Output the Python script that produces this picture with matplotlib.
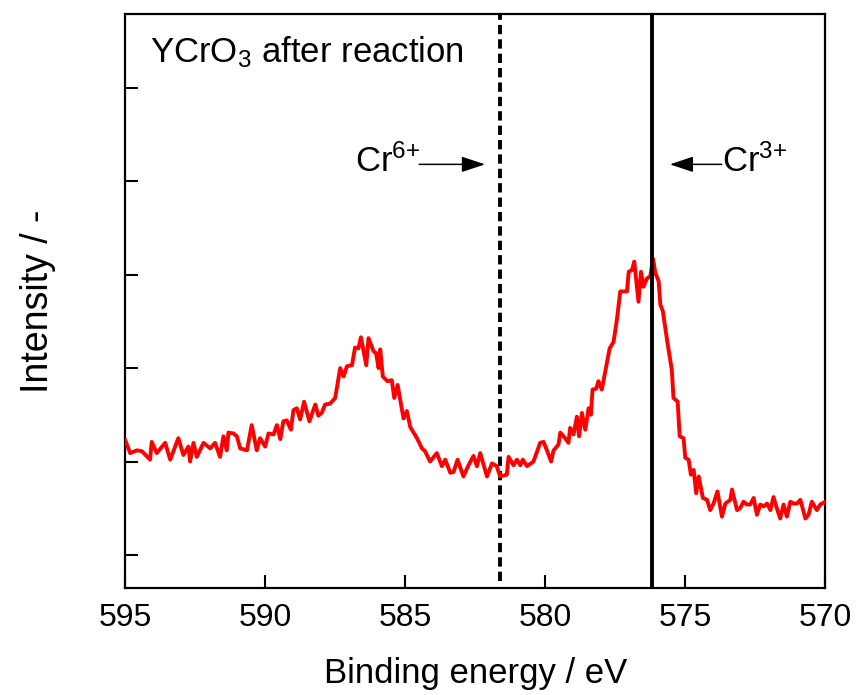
import matplotlib
matplotlib.use('Agg')
import matplotlib.pyplot as plt

plt.rcParams['font.family'] = ['Liberation Sans', 'DejaVu Sans']
plt.rcParams['mathtext.default'] = 'regular'

# XPS Cr 2p spectrum (binding energy in eV, intensity in tick units)
energy = [
    595.00, 594.82, 594.58, 594.40, 594.11, 594.05, 593.87, 593.57, 593.39, 593.10,
    592.92, 592.74, 592.68, 592.56, 592.44, 592.20, 591.96, 591.79, 591.61, 591.49,
    591.37, 591.31, 591.13, 591.01, 590.89, 590.65, 590.48, 590.30, 590.18, 590.00,
    589.88, 589.70, 589.58, 589.46, 589.35, 589.23, 589.08, 588.99, 588.87, 588.75,
    588.61, 588.42, 588.21, 588.10, 587.98, 587.86, 587.68, 587.50, 587.32, 587.20,
    587.08, 586.90, 586.79, 586.67, 586.58, 586.39, 586.31, 586.13, 586.04, 585.95,
    585.89, 585.80, 585.63, 585.48, 585.39, 585.27, 585.06, 584.94, 584.82, 584.58,
    584.40, 584.29, 584.11, 583.87, 583.69, 583.57, 583.39, 583.27, 583.13, 582.92,
    582.74, 582.56, 582.44, 582.32, 582.08, 581.90, 581.73, 581.61, 581.37, 581.31,
    581.13, 581.01, 580.89, 580.80, 580.65, 580.42, 580.18, 580.06, 579.94, 579.79,
    579.70, 579.53, 579.46, 579.29, 579.17, 579.11, 578.99, 578.87, 578.79, 578.69,
    578.57, 578.45, 578.37, 578.31, 578.18, 578.10, 577.98, 577.80, 577.70, 577.56,
    577.44, 577.32, 577.08, 577.02, 576.90, 576.82, 576.67, 576.58, 576.49, 576.37,
    576.25, 576.15, 576.07, 575.95, 575.89, 575.80, 575.65, 575.48, 575.42, 575.27,
    575.20, 575.06, 575.00, 574.88, 574.80, 574.70, 574.61, 574.52, 574.37, 574.22,
    574.11, 573.99, 573.85, 573.69, 573.57, 573.39, 573.33, 573.15, 573.04, 572.92,
    572.80, 572.68, 572.56, 572.44, 572.32, 572.20, 572.08, 571.96, 571.85, 571.73,
    571.61, 571.49, 571.37, 571.25, 571.13, 571.01, 570.89, 570.71, 570.60, 570.48,
    570.30, 570.18, 570.00,
]
intensity = [
    1.23, 1.09, 1.12, 1.11, 1.02, 1.21, 1.09, 1.20, 1.02, 1.25,
    1.07, 1.16, 1.00, 1.20, 1.05, 1.20, 1.14, 1.20, 1.05, 1.27,
    1.12, 1.31, 1.30, 1.27, 1.14, 1.12, 1.39, 1.12, 1.25, 1.16,
    1.30, 1.29, 1.39, 1.24, 1.43, 1.44, 1.34, 1.55, 1.57, 1.45,
    1.64, 1.43, 1.61, 1.49, 1.52, 1.61, 1.62, 1.68, 2.00, 1.91,
    2.02, 2.03, 2.22, 2.21, 2.33, 2.03, 2.32, 2.18, 2.16, 2.00,
    2.20, 1.91, 1.86, 1.87, 1.68, 1.82, 1.46, 1.54, 1.37, 1.25,
    1.14, 1.11, 1.00, 1.09, 0.95, 1.02, 0.88, 0.89, 1.02, 0.84,
    0.96, 1.06, 0.95, 1.09, 0.84, 0.98, 0.95, 0.84, 0.86, 1.05,
    0.96, 1.02, 0.96, 1.02, 0.95, 1.00, 1.20, 1.21, 1.12, 1.00,
    1.12, 1.18, 1.31, 1.25, 1.20, 1.36, 1.29, 1.48, 1.27, 1.52,
    1.34, 1.57, 1.50, 1.77, 1.78, 1.86, 1.77, 2.05, 2.21, 2.28,
    2.52, 2.82, 2.82, 3.03, 3.05, 3.14, 2.71, 3.03, 2.87, 2.96,
    2.98, 3.17, 3.02, 2.93, 2.68, 2.61, 2.30, 1.98, 1.68, 1.64,
    1.27, 1.25, 1.04, 1.02, 0.86, 0.91, 0.66, 0.84, 0.61, 0.59,
    0.48, 0.55, 0.68, 0.41, 0.55, 0.59, 0.70, 0.48, 0.50, 0.57,
    0.54, 0.54, 0.61, 0.43, 0.54, 0.52, 0.55, 0.48, 0.62, 0.50,
    0.39, 0.54, 0.41, 0.57, 0.55, 0.55, 0.59, 0.39, 0.43, 0.57,
    0.48, 0.54, 0.57,
]

xticks = [595, 590, 585, 580, 575, 570]
yticks = [0, 1, 2, 3, 4, 5]
cr6_pos = 581.6
cr3_pos = 576.2

fig = plt.figure(figsize=(8.57, 6.95), dpi=100)
ax = fig.add_axes([0.146, 0.154, 0.817, 0.826])

ax.plot(energy, intensity, color='#ff0000', lw=2.8, zorder=3)

# reference positions of Cr6+ and Cr3+
ax.axvline(cr6_pos, ymin=0.012, ymax=1, color='black', lw=2.8,
           linestyle=(0, (2.4, 1.3)), zorder=2)
ax.axvline(cr3_pos, color='black', lw=2.8, zorder=4)

ax.set_xlim(595, 570)
ax.set_ylim(-0.353, 5.79)
ax.set_xticks(xticks)
ax.set_yticks(yticks)
ax.set_yticklabels([])
ax.tick_params(axis='both', direction='in', length=9.5, width=1.5)
ax.tick_params(axis='x', pad=11, labelsize=23)
for sp in ax.spines.values():
    sp.set_linewidth(1.6)

ax.set_xlabel('Binding energy / eV', fontsize=25, labelpad=17)
ax.set_ylabel('Intensity / -', fontsize=27, labelpad=46)

ax.text(594.1, 5.27, 'YCrO$_3$ after reaction', fontsize=25,
        va='baseline', ha='left')

arrow = dict(arrowstyle='-|>,head_length=0.9,head_width=0.3', mutation_scale=16,
             color='black', lw=1.1, shrinkA=0, shrinkB=0)
ax.text(584.45, 4.10, 'Cr$^{6{+}}$', fontsize=25, va='baseline', ha='right')
ax.annotate('', xy=(582.15, 4.18), xytext=(584.5, 4.18), arrowprops=arrow)
ax.text(573.7, 4.10, 'Cr$^{3{+}}$', fontsize=25, va='baseline', ha='left')
ax.annotate('', xy=(575.55, 4.18), xytext=(573.7, 4.18), arrowprops=arrow)

fig.savefig('out.png', dpi=100)
